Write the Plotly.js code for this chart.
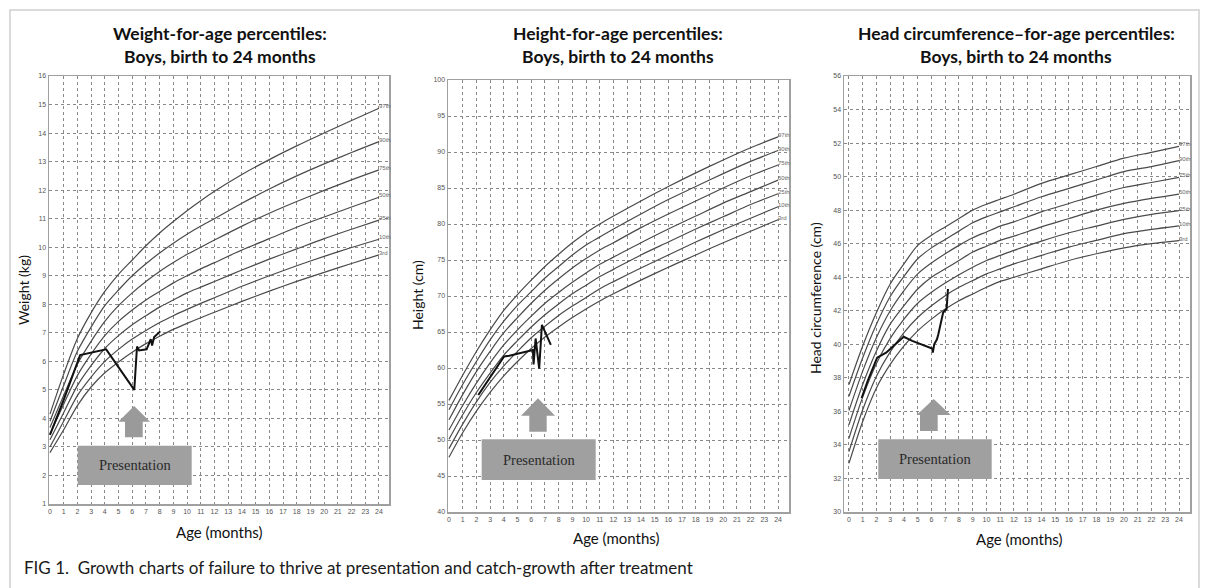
<!DOCTYPE html>
<html><head><meta charset="utf-8">
<script src="https://cdn.plot.ly/plotly-3.0.1.min.js"></script>
<style>html,body{margin:0;padding:0;background:#fff}#chart{width:1208px;height:588px}</style>
</head><body><div id="chart"></div>
<script>
// ---------- data ----------
const months = [0,1,2,3,4,5,6,7,8,9,10,11,12,14,16,18,20,22,24];
const pctLabels = ['3rd','10th','25th','50th','75th','90th','97th'];

const weightP3  = [2.8,3.6,4.45,5.1,5.6,5.98,6.32,6.62,6.88,7.12,7.33,7.53,7.72,8.1,8.46,8.8,9.12,9.43,9.73];
const weightP10 = [3.0,3.9,4.8,5.45,6.0,6.42,6.78,7.08,7.36,7.6,7.82,8.03,8.23,8.63,9.0,9.35,9.68,9.99,10.28];
const weightP25 = [3.25,4.2,5.15,5.85,6.45,6.9,7.28,7.6,7.9,8.15,8.4,8.6,8.8,9.2,9.58,9.94,10.3,10.63,10.95];
const weightP50 = [3.45,4.5,5.5,6.25,6.9,7.4,7.8,8.15,8.45,8.75,9.0,9.24,9.46,9.9,10.3,10.7,11.06,11.41,11.75];
const weightP75 = [3.68,4.8,5.9,6.7,7.4,7.95,8.4,8.8,9.15,9.46,9.75,10.0,10.25,10.74,11.19,11.6,11.99,12.36,12.71];
const weightP90 = [3.9,5.15,6.35,7.2,7.95,8.5,9.0,9.42,9.8,10.14,10.45,10.74,11.0,11.54,12.04,12.5,12.92,13.32,13.7];
const weightP97 = [4.15,5.55,6.8,7.7,8.45,9.05,9.55,10.05,10.5,10.9,11.28,11.63,11.96,12.55,13.07,13.55,14.0,14.44,14.87];

const heightP3  = [47.6,51.0,54.0,56.6,58.9,60.9,62.7,64.3,65.7,67.0,68.2,69.3,70.3,72.2,74.0,75.7,77.4,79.0,80.6];
const heightP10 = [48.8,52.2,55.3,58.0,60.3,62.3,64.2,65.8,67.3,68.6,69.8,71.0,72.0,73.9,75.7,77.5,79.2,80.8,82.4];
const heightP25 = [50.1,53.5,56.6,59.3,61.8,63.8,65.7,67.4,68.9,70.3,71.5,72.7,73.7,75.7,77.5,79.3,81.0,82.7,84.2];
const heightP50 = [51.4,54.8,57.9,60.7,63.2,65.3,67.2,69.0,70.5,71.9,73.2,74.4,75.4,77.4,79.3,81.1,82.9,84.5,86.1];
const heightP75 = [52.8,56.3,59.5,62.3,64.9,67.0,69.0,70.8,72.4,73.9,75.2,76.4,77.4,79.5,81.4,83.2,85.0,86.7,88.2];
const heightP90 = [54.2,57.7,60.9,63.9,66.5,68.7,70.6,72.5,74.1,75.7,77.1,78.2,79.3,81.4,83.4,85.2,87.0,88.7,90.2];
const heightP97 = [55.5,59.0,62.3,65.3,68.0,70.2,72.2,74.1,75.8,77.4,78.8,80.0,81.1,83.2,85.2,87.1,88.9,90.6,92.1];

const headP3  = [32.9,35.4,37.4,38.8,39.9,40.8,41.5,42.1,42.6,43.0,43.4,43.75,44.0,44.5,45.0,45.4,45.75,46.0,46.18];
const headP10 = [33.6,36.1,38.1,39.55,40.7,41.6,42.3,42.9,43.4,43.8,44.2,44.5,44.8,45.3,45.8,46.2,46.6,46.85,47.06];
const headP25 = [34.4,36.85,38.85,40.35,41.5,42.45,43.1,43.65,44.15,44.6,45.0,45.3,45.6,46.15,46.65,47.05,47.45,47.75,47.97];
const headP50 = [35.2,37.6,39.6,41.2,42.3,43.3,44.0,44.5,45.0,45.5,45.85,46.2,46.45,47.0,47.5,48.0,48.4,48.7,48.96];
const headP75 = [36.05,38.4,40.4,42.0,43.2,44.2,44.85,45.4,45.9,46.35,46.7,47.05,47.3,47.9,48.4,48.9,49.35,49.65,49.95];
const headP90 = [36.9,39.2,41.2,42.85,44.05,45.1,45.75,46.25,46.75,47.25,47.6,47.9,48.2,48.8,49.3,49.8,50.3,50.6,50.95];
const headP97 = [37.6,39.9,41.9,43.6,44.8,45.9,46.5,47.0,47.5,48.0,48.35,48.65,48.95,49.6,50.1,50.6,51.1,51.45,51.8];

const weightAge = [0,1,2.2,4.1,6.15,6.35,6.5,7.05,7.35,7.45,7.6,8.05];
const weightKg  = [3.42,4.65,6.22,6.42,5.0,6.52,6.38,6.42,6.78,6.55,6.85,7.05];
const heightAge = [2.14,4.02,4.4,6.12,6.17,6.32,6.58,6.78,7.43];
const heightCm  = [56.25,61.6,61.7,62.5,60.5,64.1,59.9,66.0,63.2];
const headAge = [0.92,1.4,2.05,2.7,3.98,4.6,6.05,6.1,6.2,6.4,6.5,6.85,7.1,7.2];
const headCm  = [36.8,37.9,39.2,39.5,40.45,40.2,39.75,39.5,40.0,40.3,40.6,41.9,42.1,43.3];

const xTicks = [0,1,2,3,4,5,6,7,8,9,10,11,12,13,14,15,16,17,18,19,20,21,22,23,24];
const chartTitles = [
  ['Weight-for-age percentiles:','Boys, birth to 24 months'],
  ['Height-for-age percentiles:','Boys, birth to 24 months'],
  ['Head circumference–for-age percentiles:','Boys, birth to 24 months']
];
const yTitles = ['Weight (kg)','Height (cm)','Head circumference (cm)'];
const xTitle = 'Age (months)';
const boxText = 'Presentation';
const caption = 'FIG 1.  Growth charts of failure to thrive at presentation and catch-growth after treatment';

// ---------- build ----------
const charts = [
  {ax:'', pcts:[weightP3,weightP10,weightP25,weightP50,weightP75,weightP90,weightP97], px:weightAge, py:weightKg},
  {ax:'2', pcts:[heightP3,heightP10,heightP25,heightP50,heightP75,heightP90,heightP97], px:heightAge, py:heightCm},
  {ax:'3', pcts:[headP3,headP10,headP25,headP50,headP75,headP90,headP97], px:headAge, py:headCm}
];

const traces = [];
const annotations = [];
const shapes = [];
charts.forEach((c,ci)=>{
  const xa = 'x'+c.ax, ya = 'y'+c.ax;
  c.pcts.forEach((arr,i)=>{
    traces.push({x:months, y:arr, xaxis:xa, yaxis:ya, mode:'lines', type:'scatter',
      line:{color:'#4a4a4a', width:1.2, shape:'spline', smoothing:0.8}, hoverinfo:'skip', showlegend:false});
    annotations.push({xref:xa, yref:ya, x:months[months.length-1], y:arr[arr.length-1], text:pctLabels[i],
      showarrow:false, xanchor:'left', yanchor:'bottom', xshift:-2, yshift:-3,
      font:{size:6, color:'#666', family:'Liberation Sans'}});
  });
  traces.push({x:c.px, y:c.py, xaxis:xa, yaxis:ya, mode:'lines', type:'scatter',
    line:{color:'#111', width:2}, hoverinfo:'skip', showlegend:false});
});

const common = {showgrid:true, gridcolor:'#888', griddash:'dot', gridwidth:1, zeroline:false,
  showline:true, linecolor:'#a0a0a0', linewidth:1.5, mirror:true, ticks:'',
  tickfont:{size:7, color:'#555', family:'Liberation Sans'}, fixedrange:true};

const layout = {
  width:1208, height:588, autosize:false,
  margin:{l:0,r:0,t:0,b:0}, paper_bgcolor:'#fff', plot_bgcolor:'#fff', showlegend:false,
  xaxis:  Object.assign({}, common, {domain:[49/1208, 389/1208], range:[-0.07,24.73], tickvals:xTicks, anchor:'y'}),
  yaxis:  Object.assign({}, common, {domain:[1-504/588, 1-76/588], range:[1,16], dtick:1, tick0:0, anchor:'x'}),
  xaxis2: Object.assign({}, common, {domain:[448/1208, 789/1208], range:[-0.07,24.8], tickvals:xTicks, anchor:'y2'}),
  yaxis2: Object.assign({}, common, {domain:[1-512/588, 1-80/588], range:[40,100], dtick:5, tick0:0, anchor:'x2'}),
  xaxis3: Object.assign({}, common, {domain:[844/1208, 1190/1208], range:[-0.36,24.8], tickvals:xTicks, anchor:'y3'}),
  yaxis3: Object.assign({}, common, {domain:[1-512/588, 1-76/588], range:[30,56], dtick:2, tick0:0, anchor:'x3'}),
  annotations: annotations, shapes: shapes
};

// titles
const titleX = [220, 618, 1016];
const ageX = [[220,532],[616,538],[1019,539]];
const yTitleX = [[23,290],[418,295],[815,298]];
chartTitles.forEach((t,i)=>{
  annotations.push({xref:'paper', yref:'paper', x:titleX[i]/1208, y:1-33.5/588, text:'<b>'+t[0]+'</b>',
    showarrow:false, xanchor:'center', yanchor:'middle', font:{size:17.5, color:'#111', family:'Lato'}});
  annotations.push({xref:'paper', yref:'paper', x:titleX[i]/1208, y:1-56.5/588, text:'<b>'+t[1]+'</b>',
    showarrow:false, xanchor:'center', yanchor:'middle', font:{size:17.5, color:'#111', family:'Lato'}});
  annotations.push({xref:'paper', yref:'paper', x:ageX[i][0]/1208, y:1-ageX[i][1]/588, text:xTitle,
    showarrow:false, xanchor:'center', yanchor:'middle', font:{size:15, color:'#111', family:'Lato'}});
  annotations.push({xref:'paper', yref:'paper', x:yTitleX[i][0]/1208, y:1-yTitleX[i][1]/588, text:yTitles[i],
    showarrow:false, textangle:-90, xanchor:'center', yanchor:'middle', font:{size:14, color:'#111', family:'Lato'}});
});

// presentation boxes and arrows (domain-relative placement)
const boxes = [
  {ax:'', bx:[0.0844,0.4197], by:[0.0444,0.1362], tip:0.229, base:0.1923, bot:0.1558, head:[0.2038,0.2971], stem:[0.2235,0.2756]},
  {ax:'2', bx:[0.0988,0.4331], by:[0.0741,0.1683], tip:0.2632, base:0.2229, bot:0.1859, head:[0.2141,0.3138], stem:[0.2384,0.2894]},
  {ax:'3', bx:[0.0991,0.4269], by:[0.0757,0.1667], tip:0.2592, base:0.2225, bot:0.1858, head:[0.2101,0.3084], stem:[0.2197,0.2708]}
];
boxes.forEach(b=>{
  const xr = 'x'+b.ax+' domain', yr = 'y'+b.ax+' domain';
  shapes.push({type:'rect', xref:xr, yref:yr, x0:b.bx[0], x1:b.bx[1], y0:b.by[0], y1:b.by[1],
    fillcolor:'#a0a0a0', line:{width:0}, layer:'above'});
  const cx = (b.head[0]+b.head[1])/2;
  const p = `M ${b.stem[0]},${b.bot} L ${b.stem[0]},${b.base} L ${b.head[0]},${b.base} L ${cx},${b.tip} L ${b.head[1]},${b.base} L ${b.stem[1]},${b.base} L ${b.stem[1]},${b.bot} Z`;
  shapes.push({type:'path', xref:xr, yref:yr, path:p, fillcolor:'#9a9a9a', line:{width:0}, layer:'above'});
  annotations.push({xref:xr, yref:yr, x:(b.bx[0]+b.bx[1])/2, y:(b.by[0]+b.by[1])/2, text:boxText,
    showarrow:false, xanchor:'center', yanchor:'middle', font:{size:14.5, color:'#2a2a2a', family:'Liberation Serif'}});
});

// caption and frame
annotations.push({xref:'paper', yref:'paper', x:22/1208, y:1-567/588, text:caption, showarrow:false,
  xanchor:'left', yanchor:'middle', font:{size:17, color:'#1a1a1a', family:'Lato'}});
shapes.push({type:'rect', xref:'paper', yref:'paper', x0:10/1208, x1:1199/1208, y0:-0.05, y1:1-10/588,
  line:{color:'#cfcfcf', width:1.5}, fillcolor:'rgba(0,0,0,0)', layer:'below'});

Plotly.newPlot('chart', traces, layout, {staticPlot:true, displayModeBar:false});
</script></body></html>
